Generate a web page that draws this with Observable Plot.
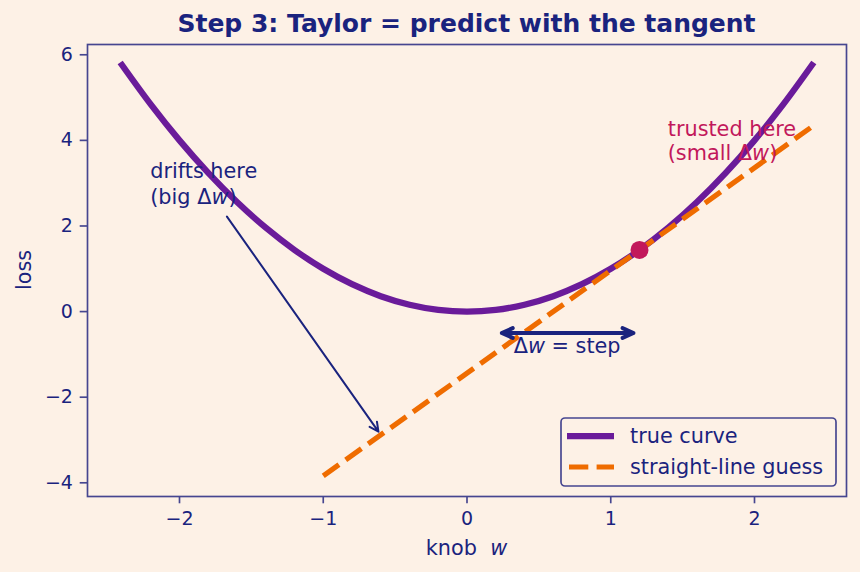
<!DOCTYPE html>
<html>
<head>
<meta charset="utf-8">
<script src="https://cdn.jsdelivr.net/npm/d3@7"></script>
<script src="https://cdn.jsdelivr.net/npm/@observablehq/plot@0.6"></script>
<style>
  body { margin: 0; background: #fdf1e6; font-family: "DejaVu Sans", sans-serif; }
  #chart { width: 860px; height: 572px; position: relative; }
  #title {
    height: 40px; box-sizing: border-box; padding: 9px 14px 0 87px;
    text-align: center; font-weight: bold; font-size: 25px; line-height: 29px;
    color: #1a237e; white-space: nowrap;
  }
</style>
</head>
<body>
<div id="chart">
  <div id="title">Step 3: Taylor = predict with the tangent</div>
</div>
<script>
// Loss curve sampled along the knob w
const curveW    = [-2.4, -2.2, -2.0, -1.8, -1.6, -1.4, -1.2, -1.0, -0.8, -0.6, -0.4, -0.2, 0.0,
                    0.2, 0.4, 0.6, 0.8, 1.0, 1.2, 1.4, 1.6, 1.8, 2.0, 2.2, 2.4];
const curveLoss = [5.76, 4.84, 4.00, 3.24, 2.56, 1.96, 1.44, 1.00, 0.64, 0.36, 0.16, 0.04, 0.00,
                   0.04, 0.16, 0.36, 0.64, 1.00, 1.44, 1.96, 2.56, 3.24, 4.00, 4.84, 5.76];

// Tangent line ("straight-line guess") end points
const guessW    = [-1.0, 2.4];
const guessLoss = [-3.84, 4.32];

// Point where the tangent touches the curve
const anchorW    = [1.2];
const anchorLoss = [1.44];

// Step arrow: from w, to w, at loss level
const stepFromW = 0.2;
const stepToW   = 1.2;
const stepLoss  = -0.5;

// "drifts here" pointer: start and tip
const driftStart = [-1.67, 2.22];
const driftTip   = [-0.6, -2.88];

const xTicks = [-2, -1, 0, 1, 2];
const yTicks = [-4, -2, 0, 2, 4, 6];
const seriesNames = ["true curve", "straight-line guess"];

const navy = "#1a237e", spine = "#464690", purple = "#6a1b9a", orange = "#ef6c00", crimson = "#c2185b";
const bg = "#fdf1e6";

const curve  = curveW.map((w, i) => ({w, loss: curveLoss[i]}));
const guess  = guessW.map((w, i) => ({w, loss: guessLoss[i]}));
const anchor = anchorW.map((w, i) => ({w, loss: anchorLoss[i]}));
const stepMid = (stepFromW + stepToW) / 2;
const stepArrows = [
  {x1: stepMid, y1: stepLoss, x2: stepFromW, y2: stepLoss},
  {x1: stepMid, y1: stepLoss, x2: stepToW,   y2: stepLoss}
];
const driftArrow = [{x1: driftStart[0], y1: driftStart[1], x2: driftTip[0], y2: driftTip[1]}];

const plot = Plot.plot({
  width: 860,
  height: 532,
  marginTop: 4,
  marginBottom: 76,
  marginLeft: 87,
  marginRight: 14,
  style: {background: "transparent", fontFamily: "DejaVu Sans", color: navy, overflow: "visible"},
  x: {domain: [-2.64, 2.64]},
  y: {domain: [-4.32, 6.24]},
  marks: [
    Plot.line(curve, {x: "w", y: "loss", stroke: purple, strokeWidth: 6.25,
                      curve: "catmull-rom", strokeLinecap: "square"}),
    Plot.line(guess, {x: "w", y: "loss", stroke: orange, strokeWidth: 5.2,
                      strokeDasharray: "19.3,8.3", strokeLinecap: "butt"}),
    Plot.dot(anchor, {x: "w", y: "loss", r: 9, fill: crimson}),
    Plot.arrow(stepArrows, {x1: "x1", y1: "y1", x2: "x2", y2: "y2", stroke: navy,
                            strokeWidth: 4, headLength: 4.5, headAngle: 48, insetEnd: 6}),
    Plot.arrow(driftArrow, {x1: "x1", y1: "y1", x2: "x2", y2: "y2", stroke: navy,
                            strokeWidth: 2, headLength: 7.5, headAngle: 53, insetEnd: 4}),
    Plot.frame({stroke: spine, strokeWidth: 1.67}),
    Plot.axisX({ticks: xTicks, tickFormat: "d", tickSize: 7.3, tickPadding: 8, fontSize: 19,
                stroke: spine, fill: navy, strokeWidth: 1.67, label: null}),
    Plot.axisY({ticks: yTicks, tickFormat: "d", tickSize: 7.3, tickPadding: 7.3, fontSize: 19,
                stroke: spine, fill: navy, strokeWidth: 1.67, label: null})
  ]
});
document.getElementById("chart").appendChild(plot);

const svg = d3.select(plot);
const sx = plot.scale("x"), sy = plot.scale("y");
const X = v => sx.apply(v), Y = v => sy.apply(v);

// text with an italic part, positioned at a baseline
function richText(parent, x, y, parts, {fill = navy, size = 20.8, anchor = "start", rotate = null} = {}) {
  const t = parent.append("text")
    .attr("x", x).attr("y", y)
    .attr("fill", fill)
    .attr("font-size", size)
    .attr("font-family", "DejaVu Sans")
    .attr("text-anchor", anchor);
  if (rotate != null) t.attr("transform", `rotate(${rotate},${x},${y})`);
  for (const p of parts) {
    const s = t.append("tspan").text(p.t);
    if (p.i) s.attr("font-style", "italic");
  }
  return t;
}

// axis labels
const frameBottom = 532 - 76;
richText(svg, (87 + 846) / 2, frameBottom + 59, [{t: "knob\u00a0\u00a0"}, {t: "w", i: true}], {anchor: "middle"});
richText(svg, 31, (4 + frameBottom) / 2, [{t: "loss"}], {anchor: "middle", rotate: -90});

// annotations
richText(svg, X(-2.2), Y(3.1), [{t: "drifts here"}]);
richText(svg, X(-2.2), Y(2.5), [{t: "(big \u0394"}, {t: "w", i: true}, {t: ")"}]);
richText(svg, X(1.4), Y(4.1), [{t: "trusted here"}], {fill: crimson});
richText(svg, X(1.4), Y(3.52), [{t: "(small \u0394"}, {t: "w", i: true}, {t: ")"}], {fill: crimson});
richText(svg, X(stepMid), Y(-0.98), [{t: "\u0394"}, {t: "w", i: true}, {t: " = step"}], {anchor: "middle"});

// legend box in the lower right corner of the frame
const lgRight = 846 - 10, lgBottom = frameBottom - 10;
const lgW = 275, lgH = 68;
const lg = svg.append("g").attr("transform", `translate(${lgRight - lgW},${lgBottom - lgH})`);
lg.append("rect").attr("width", lgW).attr("height", lgH).attr("rx", 4)
  .attr("fill", bg).attr("fill-opacity", 0.8).attr("stroke", spine).attr("stroke-width", 1.67);
const styles = [
  {stroke: purple, width: 6.25, dash: null},
  {stroke: orange, width: 5.2, dash: "19.3,8.3"}
];
seriesNames.forEach((name, i) => {
  const cy = 18 + i * 31;
  const ln = lg.append("line").attr("x1", 6).attr("x2", 53).attr("y1", cy).attr("y2", cy)
    .attr("stroke", styles[i].stroke).attr("stroke-width", styles[i].width);
  if (styles[i].dash) ln.attr("x1", 8).attr("stroke-dasharray", styles[i].dash);
  richText(lg, 69, cy + 7, [{t: name}]);
});
</script>
</body>
</html>
